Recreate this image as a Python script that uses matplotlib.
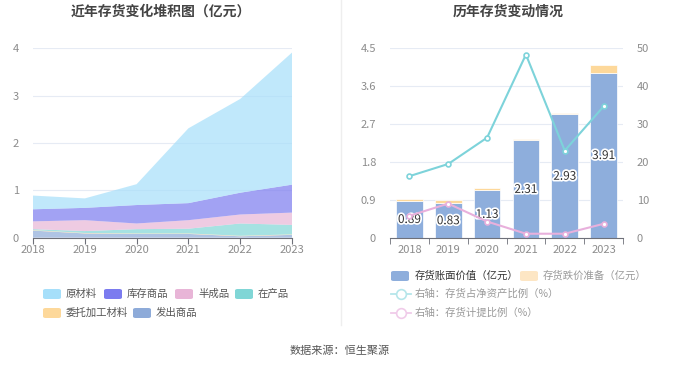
import numpy as np
import matplotlib.pyplot as plt
from matplotlib.lines import Line2D
from matplotlib.patches import FancyBboxPatch
import matplotlib.patheffects as pe

plt.rcParams['font.family'] = ['Noto Sans CJK SC', 'DejaVu Sans']

# data
years = ["2018", "2019", "2020", "2021", "2022", "2023"]
raw_material = [0.29, 0.20, 0.44, 1.58, 1.98, 2.79]      # 原材料
stock_goods = [0.255, 0.26, 0.39, 0.36, 0.46, 0.59]      # 库存商品
semi_finished = [0.165, 0.23, 0.12, 0.18, 0.19, 0.26]    # 半成品
wip = [0.02, 0.04, 0.09, 0.10, 0.26, 0.20]               # 在产品
outsourced = [0.01, 0.01, 0.01, 0.01, 0.01, 0.01]        # 委托加工材料
shipped = [0.15, 0.09, 0.08, 0.08, 0.03, 0.06]           # 发出商品

book_value = [0.89, 0.83, 1.13, 2.31, 2.93, 3.91]
impairment = [0.046, 0.08, 0.05, 0.03, 0.04, 0.17]
pct_net_assets = [16.3, 19.5, 26.4, 48.2, 23.0, 34.6]
pct_provision = [5.9, 9.1, 4.4, 1.2, 1.2, 3.8]

stack_names = ["发出商品", "委托加工材料", "在产品", "半成品", "库存商品", "原材料"]
stack_colors = ["#8eabd9", "#fdd89a", "#80d6d6", "#e8b5d7", "#7b7bef", "#a6dffa"]

grid_c = "#e6ebf4"
tick_c = "#8c8c8c"
axis_c = "#6e7079"

fig = plt.figure(figsize=(6.8, 3.67), dpi=100)

# ---- left: stacked area
ax1 = fig.add_axes([33 / 680, 1 - 237.7 / 367, (292 - 33) / 680, (237.7 - 48.3) / 367])
x = np.arange(len(years))
ax1.stackplot(x, shipped, outsourced, wip, semi_finished, stock_goods, raw_material,
              colors=stack_colors, alpha=0.7, linewidth=0)
ax1.set_xlim(0, 5)
ax1.set_ylim(0, 4)
ax1.set_yticks([0, 1, 2, 3, 4])
ax1.set_xticks(x)
ax1.set_xticklabels(years)
ax1.grid(axis='y', color=grid_c, linewidth=0.8)
ax1.set_axisbelow(True)
for s in ["left", "right", "top"]:
    ax1.spines[s].set_visible(False)
ax1.spines["bottom"].set_color(axis_c)
ax1.tick_params(axis='y', length=0, labelsize=8, labelcolor=tick_c, pad=10)
ax1.tick_params(axis='x', length=4, color=axis_c, labelsize=8, labelcolor=tick_c, pad=1)
fig.text(161 / 680, 1 - 12 / 367, "近年存货变化堆积图（亿元）", ha='center', va='center',
         fontsize=10, fontweight='bold', color='#444444')

# ---- right: bars + lines
ax2 = fig.add_axes([390 / 680, 1 - 238.3 / 367, (623 - 390) / 680, (238.3 - 47.7) / 367])
ax2.bar(x, book_value, width=0.69, color="#8eaedc", edgecolor="white", linewidth=0.5, zorder=2)
ax2.bar(x, impairment, width=0.69, bottom=book_value, color="#fdd89a",
        edgecolor="white", linewidth=0.5, zorder=2)
for xi, v in zip(x, book_value):
    ax2.text(xi, v / 2, f"{v:.2f}", ha='center', va='center', fontsize=8.5, color='#333333',
             zorder=5, path_effects=[pe.withStroke(linewidth=2.5, foreground='white')])
ax2.set_xlim(-0.5, 5.5)
ax2.set_ylim(0, 4.5)
ax2.set_yticks([0, 0.9, 1.8, 2.7, 3.6, 4.5])
ax2.set_yticklabels(["0", "0.9", "1.8", "2.7", "3.6", "4.5"])
ax2.set_xticks(x)
ax2.set_xticklabels(years)
ax2.set_xticks(np.arange(-0.5, 6, 1), minor=True)
ax2.grid(axis='y', color=grid_c, linewidth=0.8)
ax2.set_axisbelow(True)
for s in ["left", "right", "top"]:
    ax2.spines[s].set_visible(False)
ax2.spines["bottom"].set_color(axis_c)
ax2.tick_params(axis='y', length=0, labelsize=8, labelcolor=tick_c, pad=10)
ax2.tick_params(axis='x', which='major', length=0, labelsize=8, labelcolor=tick_c, pad=5)
ax2.tick_params(axis='x', which='minor', length=4, color=axis_c)

ax3 = ax2.twinx()
ax3.plot(x, pct_net_assets, color="#7dd3da", linewidth=1.5, marker='o', markersize=3.5,
         markerfacecolor='white', markeredgewidth=1.2, zorder=4)
ax3.plot(x, pct_provision, color="#e8b0dc", linewidth=1.5, marker='o', markersize=3.5,
         markerfacecolor='white', markeredgewidth=1.2, zorder=4)
ax3.set_ylim(0, 50)
ax3.set_yticks([0, 10, 20, 30, 40, 50])
for s in ["left", "right", "top", "bottom"]:
    ax3.spines[s].set_visible(False)
ax3.tick_params(axis='y', length=0, labelsize=8, labelcolor=tick_c, pad=10)
fig.text(508 / 680, 1 - 12 / 367, "历年存货变动情况", ha='center', va='center',
         fontsize=10, fontweight='bold', color='#444444')

# separator
fig.add_artist(Line2D([341 / 680, 341 / 680], [1, 1 - 325 / 367], color="#eeeeee", linewidth=1))


def patch(px, py, color, alpha=1.0):
    fig.add_artist(FancyBboxPatch(((px) / 680, 1 - (py + 5) / 367), 18 / 680, 10 / 367,
                                  boxstyle="round,pad=0,rounding_size=0.004",
                                  transform=fig.transFigure, facecolor=color,
                                  edgecolor='none', alpha=alpha))


def label(px, py, text, color='#555555'):
    fig.text(px / 680, 1 - py / 367, text, ha='left', va='center', fontsize=7.5, color=color)


# left legend
left_rows = [
    [("原材料", "#a6dffa", 43), ("库存商品", "#7b7bef", 104), ("半成品", "#e8b5d7", 175), ("在产品", "#80d6d6", 235)],
    [("委托加工材料", "#fdd89a", 43), ("发出商品", "#8eabd9", 133)],
]
for row, py in zip(left_rows, [294, 313]):
    for name, c, px in row:
        patch(px, py, c)
        label(px + 23, py, name)

# right legend
patch(391, 276, "#8eaedc")
label(415, 276, "存货账面价值（亿元）", color='#333333')
patch(520, 276, "#fde6c4")
label(543, 276, "存货跌价准备（亿元）", color='#999999')
for py, c, text in [(294, "#b5e6ea", "右轴：存货占净资产比例（%）"),
                    (313, "#f0cbe9", "右轴：存货计提比例（%）")]:
    fig.add_artist(Line2D([391 / 680, 411 / 680], [1 - py / 367] * 2, color=c, linewidth=1.3))
    fig.add_artist(Line2D([401 / 680], [1 - py / 367], color=c, marker='o', markersize=7,
                          markerfacecolor='white', markeredgewidth=1.2))
    label(415, py, text, color='#999999')

fig.text(340 / 680, 1 - 351 / 367, "数据来源：恒生聚源", ha='center', va='center',
         fontsize=8, color='#555555')

fig.savefig("out.png", dpi=100)
